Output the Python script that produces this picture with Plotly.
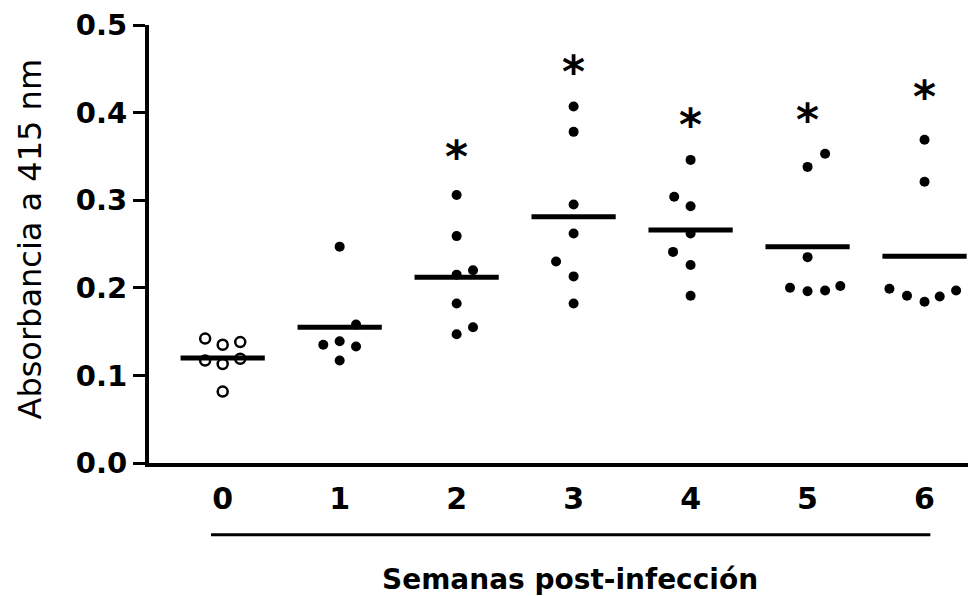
import plotly.graph_objects as go

weeks = ["0", "1", "2", "3", "4", "5", "6"]

# absorbance values per week
w0 = [0.142, 0.135, 0.138, 0.117, 0.113, 0.119, 0.0815]
w1 = [0.247, 0.135, 0.139, 0.133, 0.117, 0.158]
w2 = [0.306, 0.259, 0.215, 0.220, 0.182, 0.147, 0.155]
w3 = [0.407, 0.378, 0.295, 0.262, 0.230, 0.213, 0.182]
w4 = [0.346, 0.304, 0.293, 0.262, 0.241, 0.226, 0.191]
w5 = [0.353, 0.338, 0.235, 0.200, 0.196, 0.197, 0.202]
w6 = [0.369, 0.321, 0.199, 0.191, 0.184, 0.190, 0.197]

# horizontal jitter of each dot (in category units)
j0 = [-0.15, 0.0, 0.15, -0.15, 0.0, 0.15, 0.0]
j1 = [0.0, -0.14, 0.0, 0.14, 0.0, 0.14]
j2 = [0.0, 0.0, 0.0, 0.14, 0.0, 0.0, 0.14]
j3 = [0.0, 0.0, 0.0, 0.0, -0.15, 0.0, 0.0]
j4 = [0.0, -0.14, 0.0, 0.0, -0.15, 0.0, 0.0]
j5 = [0.15, 0.0, 0.0, -0.15, 0.0, 0.15, 0.28]
j6 = [0.0, 0.0, -0.30, -0.15, 0.0, 0.13, 0.27]

means = [0.120, 0.155, 0.212, 0.281, 0.266, 0.247, 0.236]
star_weeks = [2, 3, 4, 5, 6]
star_y = [0.357, 0.454, 0.393, 0.399, 0.425]

y_ticks = [0.0, 0.1, 0.2, 0.3, 0.4, 0.5]

groups = [w0, w1, w2, w3, w4, w5, w6]
jits = [j0, j1, j2, j3, j4, j5, j6]

fig = go.Figure()

# mean lines
mx, my = [], []
for i, m in enumerate(means):
    mx += [i - 0.36, i + 0.36, None]
    my += [m, m, None]
fig.add_trace(go.Scatter(x=mx, y=my, mode="lines",
                         line=dict(color="black", width=5), hoverinfo="skip"))

# week 0: open circles
fig.add_trace(go.Scatter(x=[0 + d for d in j0], y=w0, mode="markers",
                         marker=dict(symbol="circle-open", size=10, color="black",
                                     line=dict(width=2.5, color="black"))))
# weeks 1-6: filled dots
fx, fy = [], []
for i in range(1, 7):
    fx += [i + d for d in jits[i]]
    fy += groups[i]
fig.add_trace(go.Scatter(x=fx, y=fy, mode="markers",
                         marker=dict(symbol="circle", size=10, color="black")))

# asterisks
for wk, sy in zip(star_weeks, star_y):
    fig.add_annotation(x=wk, y=sy, xref="x", yref="y", text="*", showarrow=False,
                       xanchor="center", yanchor="middle", yshift=-6,
                       font=dict(family="DejaVu Sans", size=44, color="black", weight="bold"))

fig.add_shape(type="line", xref="x", yref="paper", x0=-0.10, x1=6.05, y0=-0.164, y1=-0.164,
              line=dict(color="black", width=3))

fig.add_annotation(text="Semanas post-infección", xref="x", yref="paper", x=2.97, y=-0.267,
                   xanchor="center", yanchor="middle", showarrow=False,
                   font=dict(family="DejaVu Sans", size=28, color="black", weight="bold"))
fig.add_annotation(text="Absorbancia a 415 nm", xref="paper", yref="paper", x=-0.1435, y=0.511,
                   xanchor="center", yanchor="middle",
                   textangle=-90, showarrow=False,
                   font=dict(family="DejaVu Sans", size=32, color="black"))

fig.update_layout(
    width=968, height=588,
    margin=dict(l=141, r=0, t=17, b=133),
    plot_bgcolor="white", paper_bgcolor="white",
    showlegend=False,
    xaxis=dict(range=[-0.63, 6.44], tickmode="array", tickvals=list(range(7)), ticktext=weeks,
               showgrid=False, zeroline=False, showline=True, linecolor="black", linewidth=4,
               ticks="outside", ticklen=6, tickcolor="white",
               tickfont=dict(family="DejaVu Sans", size=30, color="black", weight="bold")),
    yaxis=dict(range=[0, 0.5], tickmode="array", tickvals=y_ticks,
               ticktext=[f"{v:.1f}" for v in y_ticks],
               showgrid=False, zeroline=False, showline=True, linecolor="black", linewidth=4,
               ticks="outside", ticklen=12, tickwidth=3, tickcolor="black",
               ticklabeloverflow="allow",
               tickfont=dict(family="DejaVu Sans", size=29, color="black", weight="bold")),
)

fig.write_html("out.html")
